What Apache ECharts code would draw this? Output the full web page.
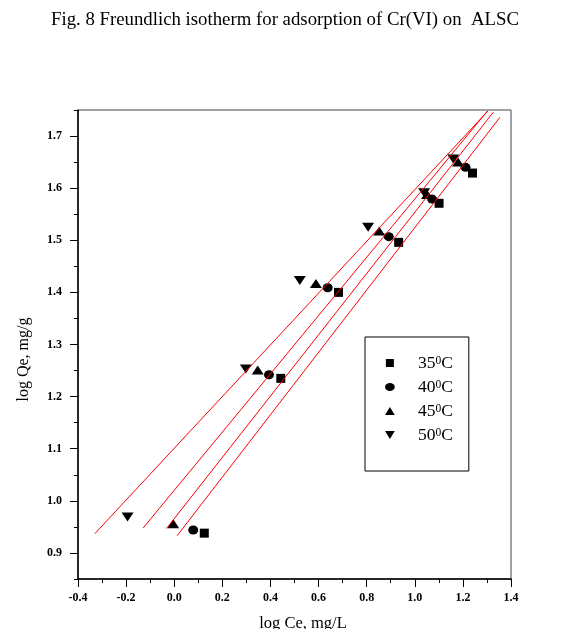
<!DOCTYPE html>
<html>
<head>
<meta charset="utf-8">
<script src="https://cdn.jsdelivr.net/npm/echarts@6/dist/echarts.min.js"></script>
<style>
html,body{margin:0;padding:0;background:#fff;}
#chart{width:577px;height:629px;}
</style>
</head>
<body>
<div id="chart"></div>
<script>
// ---- data ----
const seriesNames = ['35', '40', '45', '50'];
const x35 = [0.125, 0.443, 0.683, 0.933, 1.101, 1.240];
const y35 = [0.938, 1.235, 1.400, 1.496, 1.571, 1.629];
const x40 = [0.079, 0.394, 0.638, 0.892, 1.072, 1.211];
const y40 = [0.944, 1.242, 1.409, 1.507, 1.579, 1.640];
const x45 = [-0.004, 0.347, 0.589, 0.852, 1.051, 1.180];
const y45 = [0.956, 1.251, 1.417, 1.518, 1.588, 1.650];
const x50 = [-0.194, 0.298, 0.522, 0.806, 1.039, 1.160];
const y50 = [0.969, 1.253, 1.423, 1.525, 1.591, 1.656];
// fitted lines (start / end in data units)
const fitX35 = [0.012, 1.354], fitY35 = [0.933, 1.736];
const fitX40 = [-0.032, 1.327], fitY40 = [0.947, 1.746];
const fitX45 = [-0.129, 1.302], fitY45 = [0.948, 1.748];
const fitX50 = [-0.330, 1.304], fitY50 = [0.937, 1.748];
const yMajorTicks = [0.9, 1.0, 1.1, 1.2, 1.3, 1.4, 1.5, 1.6, 1.7];
const yMinorTicks = [0.85, 0.95, 1.05, 1.15, 1.25, 1.35, 1.45, 1.55, 1.65, 1.75];

const pts = (xs, ys) => xs.map((x, i) => [x, ys[i]]);
const SERIF = '"Liberation Serif", "Times New Roman", serif';

const symbols = {
  '35': {symbol: 'rect', size: [9, 9], rotate: 0, icon: 'path://M0,0 L10,0 L10,10 L0,10 Z'},
  '40': {symbol: 'circle', size: [10, 9], rotate: 0, icon: 'path://M0,4.5 A5.5,4.5 0 1,1 11,4.5 A5.5,4.5 0 1,1 0,4.5 Z'},
  '45': {symbol: 'triangle', size: [12, 9], rotate: 0, icon: 'path://M5.5,0 L11,9 L0,9 Z'},
  '50': {symbol: 'triangle', size: [12, 9], rotate: 180, icon: 'path://M0,0 L11,0 L5.5,9 Z'}
};
const scatterData = {'35': pts(x35, y35), '40': pts(x40, y40), '45': pts(x45, y45), '50': pts(x50, y50)};
const fitData = {'35': pts(fitX35, fitY35), '40': pts(fitX40, fitY40), '45': pts(fitX45, fitY45), '50': pts(fitX50, fitY50)};

const series = [];
seriesNames.forEach(n => {
  series.push({
    name: n + '0C', type: 'scatter', data: scatterData[n],
    symbol: symbols[n].symbol, symbolSize: symbols[n].size, symbolRotate: symbols[n].rotate,
    itemStyle: {color: '#000', opacity: 1}, z: 2, animation: false
  });
});
seriesNames.forEach(n => {
  series.push({
    name: 'fit ' + n, type: 'line', data: fitData[n], showSymbol: false, symbol: 'none',
    lineStyle: {color: '#ff0000', width: 1}, silent: true, z: 3, animation: false
  });
});

const chart = echarts.init(document.getElementById('chart'), null, {renderer: 'canvas'});
chart.setOption({
  animation: false,
  backgroundColor: '#fff',
  title: {
    text: 'Fig. 8 Freundlich isotherm for adsorption of Cr(VI) on  ALSC',
    left: 46, top: 6,
    textStyle: {fontFamily: SERIF, fontSize: 18.8, fontWeight: 'normal', color: '#000'}
  },
  grid: {left: 78, right: 66, top: 110, bottom: 50, show: true, borderColor: '#444', borderWidth: 1,
         backgroundColor: 'transparent', containLabel: false, outerBoundsMode: 'none'},
  legend: {
    data: seriesNames.map(n => ({name: n + '0C', icon: symbols[n].icon, itemStyle: {color: '#000'}})),
    orient: 'vertical', left: 365, top: 337,
    itemWidth: 46, itemHeight: 8, itemGap: 3,
    symbolKeepAspect: true, symbolRotate: 0,
    padding: [17, 16, 24, 20],
    borderColor: '#000', borderWidth: 1,
    selectedMode: false,
    formatter: name => name.slice(0, 2) + '{s|0}C',
    textStyle: {
      fontFamily: SERIF, fontSize: 17.5, color: '#000', lineHeight: 16,
      rich: {s: {fontFamily: SERIF, fontSize: 11.5, color: '#000', verticalAlign: 'top', lineHeight: 16, padding: [0, 0, 8, 0]}}
    }
  },
  xAxis: {
    type: 'value', min: -0.4, max: 1.4, interval: 0.2,
    name: 'log Ce, mg/L', nameLocation: 'middle', nameGap: 36,
    nameTextStyle: {fontFamily: SERIF, fontSize: 16.5, color: '#000', padding: [0, 0, 0, 17]},
    axisLine: {onZero: false, lineStyle: {color: '#000', width: 1.5}},
    axisTick: {show: true, inside: false, length: 8, lineStyle: {color: '#000', width: 1}},
    minorTick: {show: true, splitNumber: 2, length: 4, lineStyle: {color: '#000', width: 1}},
    splitLine: {show: false},
    axisLabel: {
      margin: 13, fontFamily: SERIF, fontSize: 12, fontWeight: 'bold', color: '#000',
      formatter: v => v.toFixed(1)
    }
  },
  yAxis: [{
    type: 'value', min: 0.85, max: 1.75, interval: 0.05,
    name: 'log Qe, mg/g', nameLocation: 'middle', nameGap: 46,
    nameTextStyle: {fontFamily: SERIF, fontSize: 16, color: '#000', padding: [0, 30, 0, 0]},
    axisLine: {onZero: false, lineStyle: {color: '#000', width: 1.5}},
    axisTick: {show: true, inside: false, length: 8, customValues: yMajorTicks, lineStyle: {color: '#000', width: 1}},
    splitLine: {show: false},
    axisLabel: {
      customValues: yMajorTicks, margin: 16, fontFamily: SERIF, fontSize: 12, fontWeight: 'bold', color: '#000',
      formatter: v => v.toFixed(1)
    }
  }, {
    type: 'value', min: 0.85, max: 1.75, interval: 0.05, position: 'left',
    axisLine: {show: false, onZero: false},
    axisTick: {show: true, inside: false, length: 4, customValues: yMinorTicks, lineStyle: {color: '#000', width: 1}},
    axisLabel: {show: false},
    splitLine: {show: false}
  }],
  series: series
});
</script>
</body>
</html>
